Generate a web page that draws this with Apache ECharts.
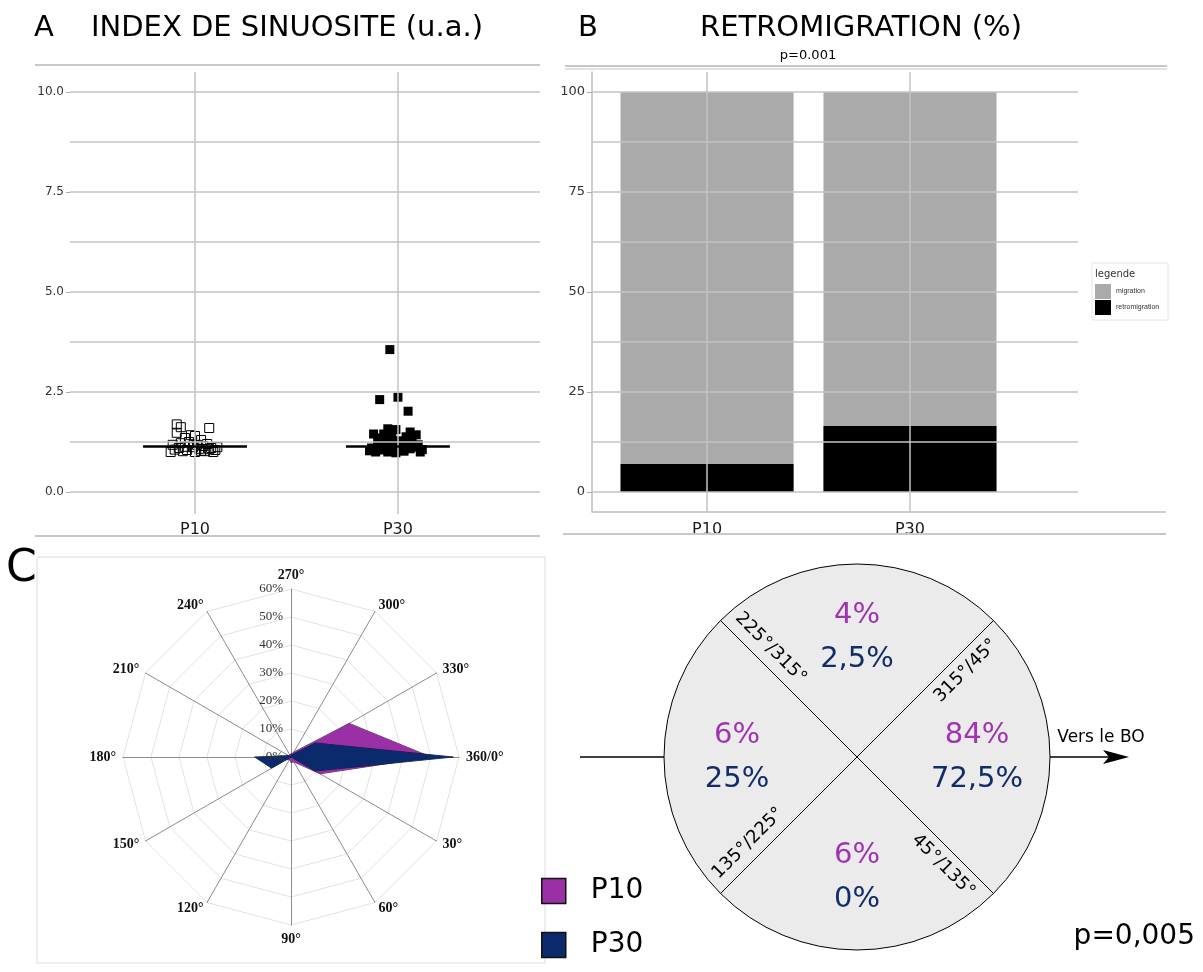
<!DOCTYPE html>
<html><head><meta charset="utf-8">
<script src="https://cdn.jsdelivr.net/npm/echarts@6/dist/echarts.min.js"></script>
<style>html,body{margin:0;padding:0;background:#fff}#c{width:1203px;height:972px}</style>
</head><body><div id="c"></div>
<script>
// ---------- DATA ----------
const groups = ['P10', 'P30'];
// Panel A : sinuosity index, [jitter position, value]
const sinuosityP10 = [[1.07,1.60],[0.91,1.69],[0.93,1.62],[0.91,1.48],[0.98,1.42],[1.00,1.40],[0.95,1.35],[1.03,1.30],
  [1.06,1.20],[0.89,1.18],[0.92,1.10],[0.96,1.05],[0.99,1.12],[1.02,1.08],[1.05,1.02],[1.08,1.10],[1.10,1.05],
  [0.88,1.00],[0.94,1.02],[1.00,1.00],[1.04,1.15],[1.09,1.00],[0.97,1.25],[0.90,1.06],[1.01,1.18],[1.07,1.07],
  [0.95,1.13],[1.03,1.03],[0.93,1.22],[1.11,1.12]];
const sinuosityP30 = [[1.96,3.56],[1.91,2.31],[2.00,2.37],[2.05,2.02],[1.95,1.58],[1.99,1.56],[2.09,1.43],[1.88,1.45],
  [1.92,1.35],[1.97,1.40],[2.04,1.38],[2.07,1.30],[1.90,1.25],[1.94,1.20],[2.00,1.28],[2.02,1.15],[2.10,1.18],
  [1.87,1.10],[1.93,1.05],[1.98,1.12],[2.03,1.02],[2.06,1.08],[2.11,1.00],[1.89,1.00],[1.95,1.00],[2.01,1.05],
  [2.08,1.12],[1.91,1.15],[1.99,0.98],[2.04,1.22],[1.96,1.32],[2.12,1.06],[1.86,1.03],[2.00,1.10],[1.93,1.45],[2.06,1.50]];
const sinuosityCentral = [1.15, 1.15];
const sinuosityTicks = [0, 2.5, 5, 7.5, 10];
const sinuosityGridValues = [0, 1.25, 2.5, 3.75, 5, 6.25, 7.5, 8.75, 10];

// Panel B : retromigration (%)
const retroCategories = ['migration', 'retromigration'];
const migrationPct = [93, 83.5];
const retromigrationPct = [7, 16.5];
const retroTicks = [0, 25, 50, 75, 100];
const retroGridValues = [0, 12.5, 25, 37.5, 50, 62.5, 75, 87.5, 100];

// Panel C : direction radar (indicators listed counter-clockwise from the right)
const directionLabels = ['360/0°','330°','300°','270°','240°','210°','180°','150°','120°','90°','60°','30°'];
const directionP10 = [50, 24, 2, 1, 1, 1, 3, 2, 1, 2, 2, 12];
const directionP30 = [58, 10, 1, 1, 0, 1, 13, 8, 0, 0, 0, 10];
const directionTicks = [0, 10, 20, 30, 40, 50, 60];

// Panel D : quadrant diagram (clockwise from the right quadrant)
const sectorNames = ['315°/45°', '45°/135°', '135°/225°', '225°/315°'];
const sectorSpan = [90, 90, 90, 90];
const sectorP10 = [84, 6, 6, 4];
const sectorP30 = [72.5, 0, 25, 2.5];

// ---------- STYLE ----------
const SANS = 'DejaVu Sans', SERIF = 'Liberation Serif';
const purple = '#9b2fa5', navy = '#0b2a6c';
const gridColor = '#c3c3c3';
const groupPos = groups.map((g, i) => i + 1);
const pct = v => String(v).replace('.', ',') + '%';

function gridLines(yVals) {
  return { silent: true, symbol: ['none','none'], label: {show: false}, animation: false,
    emphasis: {disabled: true}, lineStyle: {color: gridColor, width: 1.5, type: 'solid'},
    data: yVals.map(v => ({yAxis: v})).concat(groupPos.map(v => ({xAxis: v}))) };
}

const chart = echarts.init(document.getElementById('c'));

// graphics
const G = [];
const txt = (x, y, text, size, opt) => G.push(Object.assign({type: 'text', x, y, z: 100, silent: true,
  style: Object.assign({text, fontSize: size, fontFamily: SANS, fill: '#000', align: 'left', verticalAlign: 'middle'}, (opt||{}).style || {})},
  opt && opt.rotation !== undefined ? {rotation: opt.rotation} : {}));
const ln = (x1, y1, x2, y2, color, w) => G.push({type: 'line', z: 100, silent: true, shape: {x1, y1, x2, y2}, style: {stroke: color, lineWidth: w}});

txt(34, 28, 'A', 29);
txt(91, 28, 'INDEX DE SINUOSITE (u.a.)', 29);
txt(578, 28, 'B', 29);
txt(861, 28, 'RETROMIGRATION (%)', 29, {style: {align: 'center'}});
txt(808, 56, 'p=0.001', 13, {style: {align: 'center'}});
txt(6, 570, 'C', 44);
txt(1195, 937, 'p=0,005', 28, {style: {align: 'right'}});
txt(1101, 738, 'Vers le BO', 17, {style: {align: 'center'}});
txt(1095, 274, 'legende', 10, {style: {fill: '#333'}});

// panel frames
ln(35, 65, 540, 65, '#c8c8c8', 2);
ln(35, 536, 540, 536, '#c8c8c8', 2);
ln(565, 66, 1167, 66, '#c8c8c8', 2);
ln(565, 69, 1167, 69, '#c8c8c8', 1);
ln(592, 512, 1166, 512, '#bdbdbd', 1.5);
ln(563, 534, 1166, 534, '#c8c8c8', 2);
G.push({type: 'rect', z: 100, silent: true, shape: {x: 1092, y: 263, width: 76, height: 57}, style: {fill: 'none', stroke: '#e6e6e6', lineWidth: 1}});
G.push({type: 'rect', z: 0, silent: true, shape: {x: 37, y: 557, width: 508, height: 406}, style: {fill: 'none', stroke: '#dedede', lineWidth: 1}});

// quadrant diagram arrows & boundary labels
const pieC = [857, 757], pieR = 193;
ln(580, pieC[1], pieC[0] - pieR, pieC[1], '#000', 1.5);
ln(pieC[0] + pieR, pieC[1], 1110, pieC[1], '#000', 1.5);
G.push({type: 'polygon', z: 100, silent: true, shape: {points: [[1129, pieC[1]], [1103, pieC[1] - 7], [1109, pieC[1]], [1103, pieC[1] + 7]]}, style: {fill: '#000'}});
sectorNames.forEach((name, i) => {
  const a = (45 - 90 * i) * Math.PI / 180;        // start line of the sector (math angle)
  const along = 138, off = 16;
  const x = pieC[0] + Math.cos(a) * along + Math.sin(a) * off;
  const y = pieC[1] - Math.sin(a) * along + Math.cos(a) * off;
  let rotDeg = 45 - 90 * i;
  if (rotDeg > 90) rotDeg -= 180;
  if (rotDeg < -90) rotDeg += 180;
  txt(x, y, name, 18, {rotation: rotDeg * Math.PI / 180, style: {align: 'center'}});
});

const axisText = {fontFamily: SANS, color: '#333'};

const option = {
  animation: false,
  graphic: {elements: G},
  legend: [
    {data: retroCategories, left: 1095, top: 284, padding: 0, orient: 'vertical', itemWidth: 16, itemHeight: 15, itemGap: 1,
      icon: 'rect', selectedMode: false, textStyle: {fontSize: 7, lineHeight: 15, color: '#333', fontFamily: 'Liberation Sans'}},
    {data: groups, left: 541, top: 877, padding: 0, orient: 'vertical', itemWidth: 24, itemHeight: 25, itemGap: 26, icon: 'rect',
      selectedMode: false, itemStyle: {borderColor: '#111', borderWidth: 1.5},
      textStyle: {fontSize: 28, lineHeight: 25, color: '#000', fontFamily: SANS, padding: [0, 0, 0, 20]}}
  ],
  grid: [
    {left: 70, width: 470, top: 72, height: 442},
    {left: 592, width: 486, top: 72, height: 440},
    {left: 291, width: 1, top: 589, height: 168}
  ],
  xAxis: [
    {gridIndex: 0, type: 'value', min: 0.384, max: 2.70, splitLine: {show: false}, axisLine: {show: false},
      axisTick: {show: false},
      axisLabel: {customValues: groupPos, formatter: v => groups[Math.round(v) - 1] || '', margin: 8, fontSize: 16, ...axisText, color: '#1a1a1a'}},
    {gridIndex: 1, type: 'value', min: 0.433, max: 2.828, splitLine: {show: false}, axisLine: {show: false},
      axisTick: {show: false},
      axisLabel: {customValues: groupPos, formatter: v => groups[Math.round(v) - 1] || '', margin: 10, fontSize: 16, ...axisText, color: '#1a1a1a'}},
    {gridIndex: 2, type: 'value', show: false}
  ],
  yAxis: [
    {gridIndex: 0, type: 'value', min: -0.55, max: 10.5, splitLine: {show: false}, axisLine: {show: false},
      axisTick: {show: true, customValues: sinuosityTicks, length: 4, lineStyle: {color: '#aaa'}},
      axisLabel: {customValues: sinuosityTicks, formatter: v => v.toFixed(1), fontSize: 12, margin: 6, ...axisText}},
    {gridIndex: 1, type: 'value', min: -5, max: 105, splitLine: {show: false},
      axisLine: {show: true, lineStyle: {color: '#bdbdbd', width: 1.5}},
      axisTick: {show: true, customValues: retroTicks, length: 5, lineStyle: {color: '#aaa'}},
      axisLabel: {customValues: retroTicks, fontSize: 13, margin: 7, ...axisText}},
    {gridIndex: 2, type: 'value', min: 0, max: 60, interval: 10, z: 5, splitLine: {show: false}, axisLine: {show: false},
      axisTick: {show: false},
      axisLabel: {formatter: '{value}%', margin: 8, fontSize: 13, fontFamily: SERIF, color: '#333'}}
  ],
  radar: {
    center: [291, 757], radius: 168, startAngle: 0, splitNumber: 6, shape: 'polygon',
    indicator: directionLabels.map(n => ({name: n, min: 0, max: directionTicks[directionTicks.length - 1]})),
    nameGap: 7,
    axisName: {color: '#111', fontFamily: SERIF, fontWeight: 'bold', fontSize: 14},
    splitLine: {lineStyle: {color: '#e2e2e2', width: 1}},
    splitArea: {show: false},
    axisLine: {lineStyle: {color: '#8c8c8c', width: 1}},
    axisTick: {show: false}, axisLabel: {show: false}
  },
  series: [
    // panel A
    {type: 'scatter', name: 'gridA', xAxisIndex: 0, yAxisIndex: 0, data: [], z: 1, markLine: gridLines(sinuosityGridValues)},
    {type: 'scatter', name: 'sinuosite P10', xAxisIndex: 0, yAxisIndex: 0, z: 3, symbol: 'rect', symbolSize: 9,
      itemStyle: {color: 'rgba(255,255,255,0)', borderColor: '#000', borderWidth: 1, opacity: 1}, data: sinuosityP10,
      markLine: {silent: true, symbol: ['none','none'], label: {show: false}, lineStyle: {color: '#000', width: 2.5, type: 'solid'},
        data: [[{coord: [groupPos[0] - 0.256, sinuosityCentral[0]]}, {coord: [groupPos[0] + 0.256, sinuosityCentral[0]]}]]}},
    {type: 'scatter', name: 'sinuosite P30', xAxisIndex: 0, yAxisIndex: 0, z: 3, symbol: 'rect', symbolSize: 9,
      itemStyle: {color: '#000', opacity: 1}, data: sinuosityP30,
      markLine: {silent: true, symbol: ['none','none'], label: {show: false}, lineStyle: {color: '#000', width: 2.5, type: 'solid'},
        data: [[{coord: [groupPos[1] - 0.256, sinuosityCentral[1]]}, {coord: [groupPos[1] + 0.256, sinuosityCentral[1]]}]]}},
    // panel B
    {type: 'scatter', name: 'gridB', xAxisIndex: 1, yAxisIndex: 1, data: [], z: 1, markLine: gridLines(retroGridValues)},
    {type: 'bar', name: 'migration', xAxisIndex: 1, yAxisIndex: 1, z: 2, barWidth: 173, barGap: '-100%',
      itemStyle: {color: '#aaaaaa'},
      data: groupPos.map((x, i) => [x, retromigrationPct[i] + migrationPct[i]])},
    {type: 'bar', name: 'retromigration', xAxisIndex: 1, yAxisIndex: 1, z: 2, barWidth: 173, barGap: '-100%',
      itemStyle: {color: '#000'},
      data: groupPos.map((x, i) => [x, retromigrationPct[i]])},
    // panel C
    {type: 'radar', symbol: 'none', z: 2,
      lineStyle: {color: '#1c1c1c', width: 0.8},
      data: [
        {name: 'P10', value: directionP10, itemStyle: {color: purple}, areaStyle: {color: purple, opacity: 1}, lineStyle: {color: '#2a1030', width: 0.8}},
        {name: 'P30', value: directionP30, itemStyle: {color: navy}, areaStyle: {color: navy, opacity: 1}, lineStyle: {color: '#050f2a', width: 0.8}}
      ]},
    // panel D
    {type: 'pie', name: 'quadrants', center: pieC, radius: pieR, startAngle: 45, clockwise: true, silent: true,
      label: {show: false}, labelLine: {show: false}, emphasis: {disabled: true},
      itemStyle: {color: '#ebebeb', borderColor: '#000', borderWidth: 1},
      data: sectorNames.map((n, i) => ({name: n, value: sectorSpan[i]}))},
    {type: 'pie', name: 'quadrantLabels', center: pieC, radius: [41, pieR], startAngle: 45, clockwise: true, silent: true,
      emphasis: {disabled: true}, labelLine: {show: false},
      itemStyle: {color: 'rgba(0,0,0,0)', borderWidth: 0},
      label: {show: true, position: 'inside',
        formatter: p => '{a|' + pct(sectorP10[p.dataIndex]) + '}\n{b|' + pct(sectorP30[p.dataIndex]) + '}',
        rich: {a: {color: '#a033b0', fontSize: 29, fontFamily: SANS, lineHeight: 44},
               b: {color: '#102c6a', fontSize: 29, fontFamily: SANS, lineHeight: 44}}},
      data: sectorNames.map((n, i) => ({name: n + ' ', value: sectorSpan[i]}))}
  ]
};
chart.setOption(option);
</script></body></html>
